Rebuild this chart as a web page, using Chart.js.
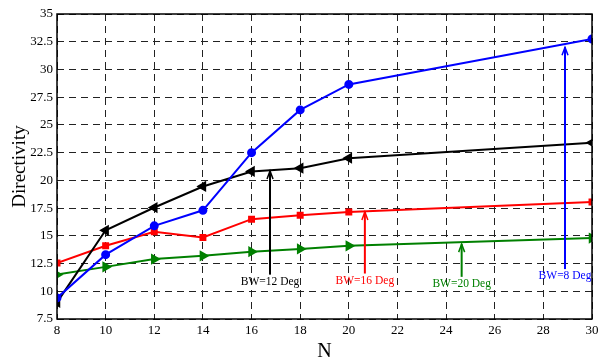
<!DOCTYPE html>
<html>
<head>
<meta charset="utf-8">
<script src="https://cdn.jsdelivr.net/npm/chart.js@4"></script>
<style>
  body { margin: 0; background: #fff; }
  canvas { display: block; }
</style>
</head>
<body>
<canvas id="chart" width="606" height="364"></canvas>
<script>
// N values (array size) and directivity for each beam width
var nValues = [8, 10, 12, 14, 16, 18, 20, 30];
var bw8 = [9.4, 13.3, 15.9, 17.3, 22.5, 26.35, 28.65, 32.75];
var bw12 = [9.0, 15.5, 17.55, 19.45, 20.8, 21.1, 22.0, 23.4];
var bw16 = [12.55, 14.1, 15.37, 14.85, 16.5, 16.85, 17.15, 18.05];
var bw20 = [11.5, 12.2, 12.9, 13.2, 13.57, 13.82, 14.1, 14.8];

var yTicks = [7.5, 10, 12.5, 15, 17.5, 20, 22.5, 25, 27.5, 30, 32.5, 35];

// arrow annotations: label, colour, x (N), arrow tip and tail (directivity)
var notes = [
    { text: 'BW=12 Deg', color: '#000000', x: 16.76, tip: 20.85, tail: 11.5 },
    { text: 'BW=16 Deg', color: '#ff0000', x: 20.66, tip: 17.15, tail: 11.6 },
    { text: 'BW=20 Deg', color: '#008000', x: 24.64, tip: 14.25, tail: 11.3 },
    { text: 'BW=8 Deg',  color: '#0000ff', x: 28.89, tip: 32.0, tail: 12.0 }
];

function toPoints(ys) {
    return nValues.map(function (n, i) { return { x: n, y: ys[i] }; });
}

var serif = '"Liberation Serif", "DejaVu Serif", serif';

var framePlugin = {
    id: 'frame',
    afterDatasetsDraw: function (chart) {
        var ctx = chart.ctx;
        var a = chart.chartArea;
        var xs = chart.scales.x, ys = chart.scales.y;
        ctx.save();
        ctx.strokeStyle = '#000';
        ctx.lineWidth = 1.5;
        ctx.strokeRect(a.left, a.top, a.right - a.left, a.bottom - a.top);

        ctx.font = '11.5px ' + serif;
        ctx.textAlign = 'center';
        ctx.textBaseline = 'middle';
        notes.forEach(function (n) {
            var px = xs.getPixelForValue(n.x);
            var tip = ys.getPixelForValue(n.tip);
            var tail = ys.getPixelForValue(n.tail);
            ctx.strokeStyle = n.color;
            ctx.lineWidth = 2;
            ctx.beginPath();
            ctx.moveTo(px, tail);
            ctx.lineTo(px, tip);
            ctx.stroke();
            ctx.lineWidth = 1.5;
            ctx.beginPath();
            ctx.moveTo(px - 3, tip + 8);
            ctx.lineTo(px, tip);
            ctx.lineTo(px + 3, tip + 8);
            ctx.stroke();
            ctx.fillStyle = n.color;
            ctx.fillText(n.text, px, tail + 7);
        });
        ctx.restore();
    }
};

var ctx = document.getElementById('chart');
new Chart(ctx, {
    type: 'line',
    data: {
        datasets: [
            {
                label: 'BW=8 Deg', data: toPoints(bw8),
                borderColor: '#0000ff', backgroundColor: '#0000ff',
                borderWidth: 2, pointStyle: 'circle', pointRadius: 3.5
            },
            {
                label: 'BW=12 Deg', data: toPoints(bw12),
                borderColor: '#000000', backgroundColor: '#000000',
                borderWidth: 2, pointStyle: 'triangle', pointRotation: 270, pointRadius: 4.5
            },
            {
                label: 'BW=16 Deg', data: toPoints(bw16),
                borderColor: '#ff0000', backgroundColor: '#ff0000',
                borderWidth: 2, pointStyle: 'rect', pointRadius: 3.5
            },
            {
                label: 'BW=20 Deg', data: toPoints(bw20),
                borderColor: '#008000', backgroundColor: '#008000',
                borderWidth: 2, pointStyle: 'triangle', pointRotation: 90, pointRadius: 4.5
            }
        ]
    },
    options: {
        responsive: false,
        animation: false,
        devicePixelRatio: 1,
        layout: { padding: { top: 14, right: 14, left: 0, bottom: 0 } },
        plugins: { legend: { display: false }, tooltip: { enabled: false } },
        elements: { line: { tension: 0 } },
        scales: {
            x: {
                type: 'linear', min: 8, max: 30,
                afterFit: function (s) { s.height = 45; },
                ticks: {
                    stepSize: 2, padding: 4, color: '#000',
                    font: { family: serif, size: 13 }
                },
                grid: { color: '#222', lineWidth: 1, drawTicks: false },
                border: { display: false, dash: [7, 5] },
                title: {
                    display: true, text: 'N', color: '#000',
                    font: { family: serif, size: 20 },
                    padding: { top: 0, bottom: 0 }
                }
            },
            y: {
                type: 'linear', min: 7.5, max: 35,
                afterFit: function (s) { s.width = 57; },
                afterBuildTicks: function (s) {
                    s.ticks = yTicks.map(function (v) { return { value: v }; });
                },
                ticks: {
                    padding: 4, color: '#000',
                    font: { family: serif, size: 13 },
                    callback: function (v) { return String(v); }
                },
                grid: { color: '#222', lineWidth: 1, drawTicks: false },
                border: { display: false, dash: [7, 5] },
                title: {
                    display: true, text: 'Directivity', color: '#000',
                    font: { family: serif, size: 19 },
                    padding: { top: 9, bottom: 0 }
                }
            }
        }
    },
    plugins: [framePlugin]
});
</script>
</body>
</html>
